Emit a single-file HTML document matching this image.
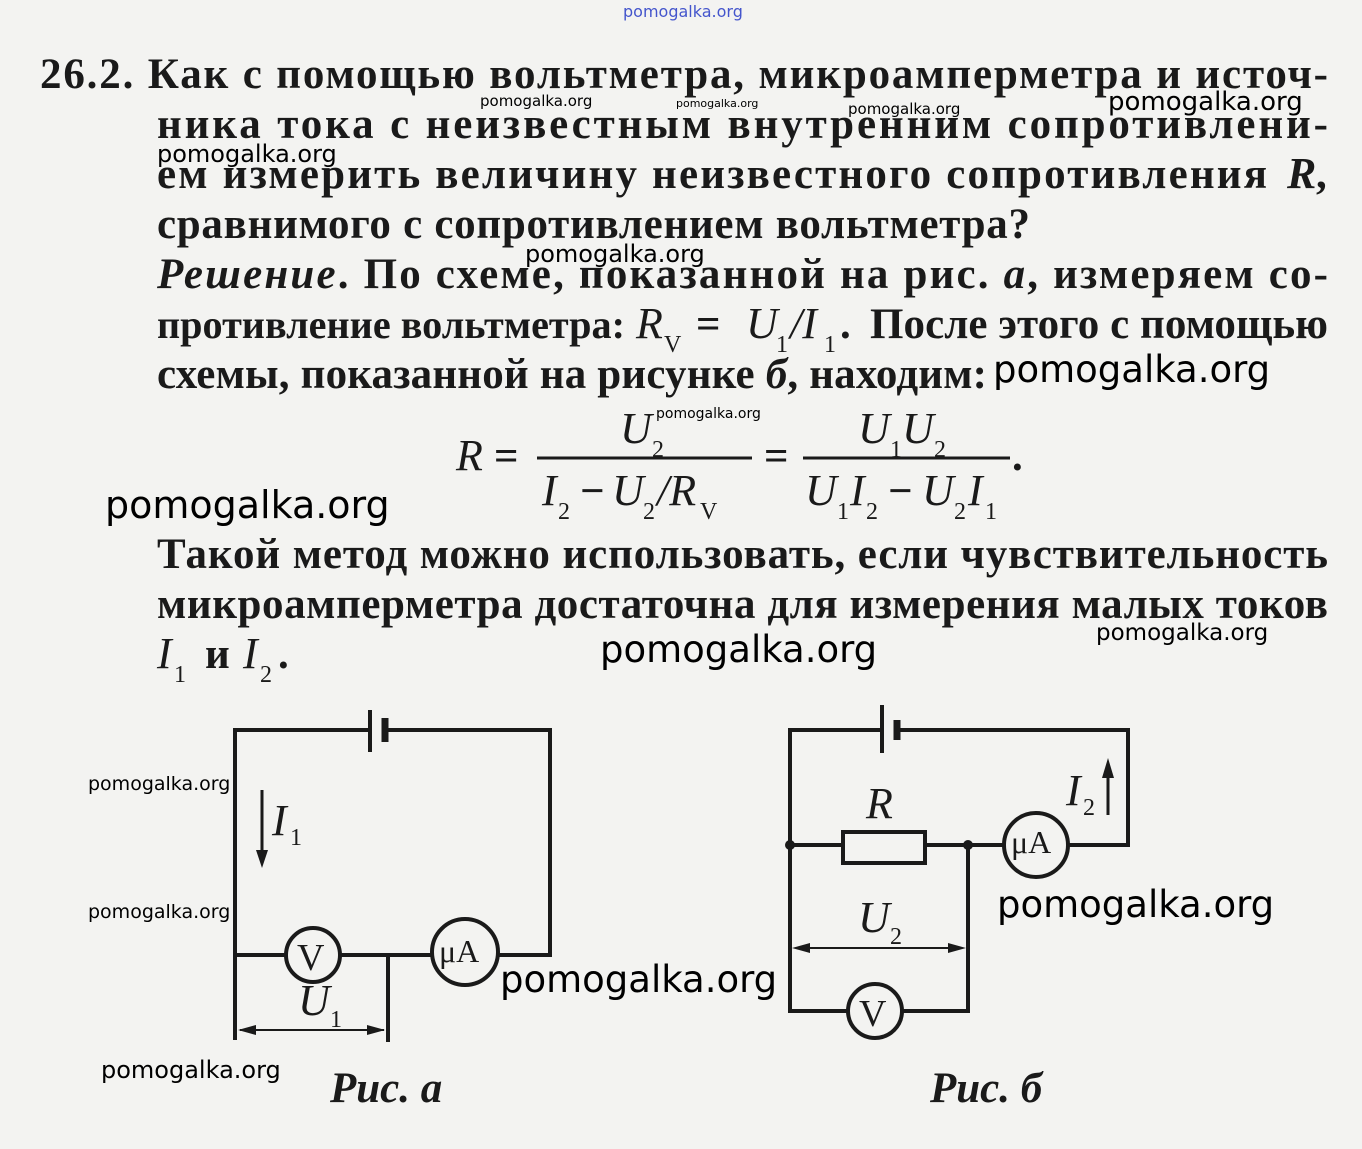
<!DOCTYPE html>
<html><head><meta charset="utf-8"><style>
html,body{margin:0;padding:0;background:#f3f3f1;}
svg{display:block}
.t{font-family:"Liberation Serif",serif;font-weight:bold;font-size:43px;fill:#1a1a1a}
.i{font-family:"Liberation Serif",serif;font-style:italic;font-size:44px;fill:#1a1a1a}
.s{font-family:"Liberation Serif",serif;font-size:24px;fill:#1a1a1a}
.w{font-family:"DejaVu Sans","Liberation Sans",sans-serif;fill:#000}
</style></head><body>
<svg width="1362" height="1149" viewBox="0 0 1362 1149" xmlns="http://www.w3.org/2000/svg">
<rect width="1362" height="1149" fill="#f3f3f1"/>
<g class="t">
<text x="40" y="88" textLength="1288" lengthAdjust="spacing">26.2. Как с помощью вольтметра, микроамперметра и источ-</text>
<text x="157" y="138" textLength="1171" lengthAdjust="spacing">ника тока с неизвестным внутренним сопротивлени-</text>
<text x="157" y="188" textLength="1110" lengthAdjust="spacing">ем измерить величину неизвестного сопротивления</text>
<text x="1287" y="188" class="i">R</text><text x="1316" y="188">,</text>
<text x="157" y="238" textLength="873" lengthAdjust="spacing">сравнимого с сопротивлением вольтметра?</text>
<text x="157" y="288" textLength="1171" lengthAdjust="spacing"><tspan font-style="italic">Решение</tspan>. По схеме, показанной на рис. <tspan font-style="italic">а</tspan>, измеряем со-</text>
<text x="157" y="338" font-size="40" textLength="468" lengthAdjust="spacingAndGlyphs">противление вольтметра:</text>
<text x="870" y="338" textLength="458" lengthAdjust="spacing">После этого с помощью</text>
<text x="157" y="388" textLength="830" lengthAdjust="spacing">схемы, показанной на рисунке <tspan font-style="italic">б</tspan>, находим:</text>
<text x="157" y="568" textLength="1171" lengthAdjust="spacing">Такой метод можно использовать, если чувствительность</text>
<text x="157" y="618" textLength="1171" lengthAdjust="spacing">микроамперметра достаточна для измерения малых токов</text>
<text x="205" y="668">и</text><text x="278" y="668">.</text>
</g>
<text class="i" x="636" y="338">R</text><text class="s" x="664" y="352">V</text>
<text class="t" x="696" y="338">=</text>
<text class="i" x="746" y="338">U</text><text class="s" x="776" y="352">1</text>
<text class="i" x="790" y="338">/I</text><text class="s" x="824" y="352">1</text><text class="t" x="840" y="338">.</text>
<text class="i" x="157" y="668">I</text><text class="s" x="174" y="682">1</text>
<text class="i" x="243" y="668">I</text><text class="s" x="260" y="682">2</text>
<text class="i" x="456" y="470">R</text><text class="t" x="494" y="470">=</text>
<line x1="537" y1="458" x2="752" y2="458" stroke="#1a1a1a" stroke-width="3"/>
<text class="i" x="620" y="443">U</text><text class="s" x="652" y="457">2</text>
<text class="i" x="542" y="505">I</text><text class="s" x="558" y="519">2</text>
<text class="t" x="580" y="505">−</text>
<text class="i" x="612" y="505">U</text><text class="s" x="643" y="519">2</text>
<text class="i" x="657" y="505">/R</text><text class="s" x="700" y="519">V</text>
<text class="t" x="764" y="470">=</text>
<line x1="803" y1="458" x2="1010" y2="458" stroke="#1a1a1a" stroke-width="3"/>
<text class="i" x="858" y="443">U</text><text class="s" x="890" y="457">1</text>
<text class="i" x="902" y="443">U</text><text class="s" x="934" y="457">2</text>
<text class="i" x="805" y="505">U</text><text class="s" x="837" y="519">1</text>
<text class="i" x="850" y="505">I</text><text class="s" x="866" y="519">2</text>
<text class="t" x="888" y="505">−</text>
<text class="i" x="922" y="505">U</text><text class="s" x="954" y="519">2</text>
<text class="i" x="968" y="505">I</text><text class="s" x="985" y="519">1</text>
<text class="t" x="1012" y="470">.</text>
<g stroke="#1a1a1a" stroke-width="4" fill="none">
<polyline points="370,730 235,730 235,1040"/>
<polyline points="385,730 550,730 550,955 498,955"/>
<line x1="370" y1="710" x2="370" y2="752"/>
<line x1="385" y1="718" x2="385" y2="742" stroke-width="7"/>
<line x1="235" y1="955" x2="286" y2="955"/>
<line x1="340" y1="955" x2="432" y2="955"/>
<circle cx="313" cy="955" r="27"/>
<circle cx="465" cy="952" r="33"/>
<line x1="388" y1="955" x2="388" y2="1042"/>
<line x1="240" y1="1030" x2="384" y2="1030" stroke-width="2"/>
<line x1="262" y1="790" x2="262" y2="855" stroke-width="3"/>
</g>
<polygon points="256,850 268,850 262,868" fill="#1a1a1a"/>
<polygon points="238,1030 256,1025 256,1035" fill="#1a1a1a"/>
<polygon points="385,1030 367,1025 367,1035" fill="#1a1a1a"/>
<text class="i" x="272" y="835">I</text><text class="s" x="290" y="845">1</text>
<text class="i" x="298" y="1015">U</text><text class="s" x="330" y="1027">1</text>
<text x="297" y="970" font-family="Liberation Serif,serif" font-size="38" fill="#1a1a1a">V</text>
<text x="439" y="962" font-family="Liberation Serif,serif" font-size="32" fill="#1a1a1a">μA</text>
<text class="t" x="330" y="1102" font-style="italic" font-size="36">Рис. а</text>
<g stroke="#1a1a1a" stroke-width="4" fill="none">
<polyline points="882,730 790,730 790,1011 848,1011"/>
<polyline points="897,730 1128,730 1128,845 1068,845"/>
<line x1="882" y1="705" x2="882" y2="753"/>
<line x1="897" y1="720" x2="897" y2="740" stroke-width="7"/>
<line x1="790" y1="845" x2="843" y2="845"/>
<rect x="843" y="832" width="82" height="31"/>
<line x1="925" y1="845" x2="1004" y2="845"/>
<circle cx="1036" cy="845" r="32"/>
<polyline points="968,845 968,1011 902,1011"/>
<circle cx="875" cy="1011" r="27"/>
<line x1="796" y1="948" x2="962" y2="948" stroke-width="2"/>
<line x1="1108" y1="775" x2="1108" y2="815" stroke-width="3"/>
</g>
<circle cx="790" cy="845" r="5" fill="#1a1a1a"/><circle cx="968" cy="845" r="5" fill="#1a1a1a"/>
<polygon points="792,948 810,943 810,953" fill="#1a1a1a"/>
<polygon points="966,948 948,943 948,953" fill="#1a1a1a"/>
<polygon points="1102,778 1114,778 1108,758" fill="#1a1a1a"/>
<text class="i" x="866" y="818">R</text>
<text class="i" x="858" y="932">U</text><text class="s" x="890" y="944">2</text>
<text class="i" x="1066" y="805">I</text><text class="s" x="1083" y="815">2</text>
<text x="859" y="1026" font-family="Liberation Serif,serif" font-size="38" fill="#1a1a1a">V</text>
<text x="1011" y="853" font-family="Liberation Serif,serif" font-size="32" fill="#1a1a1a">μA</text>
<text class="t" x="930" y="1102" font-style="italic" font-size="36">Рис. б</text>
<text class="w" x="623" y="17" font-size="16" style="fill:#4455cc">pomogalka.org</text>
<text class="w" x="480" y="106" font-size="15">pomogalka.org</text>
<text class="w" x="676" y="107" font-size="11">pomogalka.org</text>
<text class="w" x="848" y="114" font-size="15">pomogalka.org</text>
<text class="w" x="1108" y="110" font-size="26">pomogalka.org</text>
<text class="w" x="157" y="162" font-size="24">pomogalka.org</text>
<text class="w" x="525" y="262" font-size="24">pomogalka.org</text>
<text class="w" x="993" y="382" font-size="37">pomogalka.org</text>
<text class="w" x="656" y="418" font-size="14">pomogalka.org</text>
<text class="w" x="105" y="518" font-size="38">pomogalka.org</text>
<text class="w" x="1096" y="640" font-size="23">pomogalka.org</text>
<text class="w" x="600" y="662" font-size="37">pomogalka.org</text>
<text class="w" x="88" y="790" font-size="19">pomogalka.org</text>
<text class="w" x="88" y="918" font-size="19">pomogalka.org</text>
<text class="w" x="997" y="917" font-size="37">pomogalka.org</text>
<text class="w" x="500" y="992" font-size="37">pomogalka.org</text>
<text class="w" x="101" y="1078" font-size="24">pomogalka.org</text>
</svg>
</body></html>
